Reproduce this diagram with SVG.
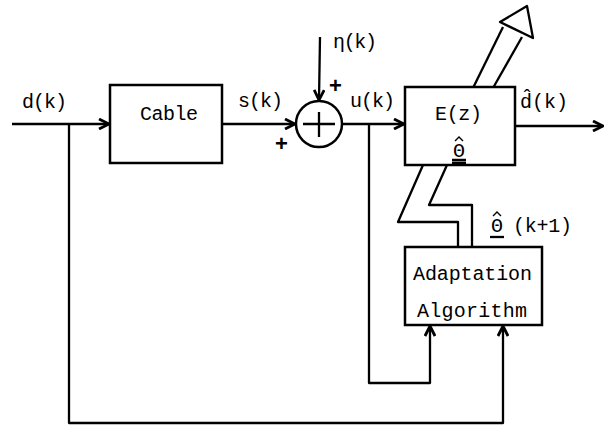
<svg xmlns="http://www.w3.org/2000/svg" width="608" height="428" viewBox="0 0 608 428">
<style>
.box{fill:#fff;stroke:#000;stroke-width:2.5}
.ln{fill:none;stroke:#000;stroke-width:2.3;stroke-linejoin:round}
.hat{fill:none;stroke:#000;stroke-width:1.4}
.t{font-family:"Liberation Mono","DejaVu Sans Mono",monospace;font-size:20px;fill:#000}
.pl{font-family:"Liberation Sans",sans-serif;font-size:22px;font-weight:bold;fill:#000}
</style>
<defs>
<marker id="ah" viewBox="0 0 12 12" refX="11" refY="6" markerWidth="12" markerHeight="12" markerUnits="userSpaceOnUse" orient="auto">
<path d="M1,1 L11,6 L1,11" fill="none" stroke="#000" stroke-width="2.8" stroke-linejoin="miter"/>
</marker>
</defs>
<rect width="608" height="428" fill="#fff"/>
<g id="connectors">
<path class="ln" d="M12,124 H109" marker-end="url(#ah)"/>
<path class="ln" d="M69,124 V423 H503 V326" marker-end="url(#ah)"/>
<path class="ln" d="M222,124 H295" marker-end="url(#ah)"/>
<path class="ln" d="M320,37 L319,100" marker-end="url(#ah)"/>
<path class="ln" d="M342,124 H404" marker-end="url(#ah)"/>
<path class="ln" d="M369,124 V383 H430 V326" marker-end="url(#ah)"/>
<path class="ln" d="M515,126 H603" marker-end="url(#ah)"/>
<g id="parameter-arrow">
<path class="ln" d="M473,88 L503,27"/>
<path class="ln" d="M493,88 L522,37"/>
<path class="ln" d="M500,22 L527,6 L533,38 Z"/>
<path class="ln" d="M423,165 L398,222 H458 V247"/>
<path class="ln" d="M447,165 L429,205 H472 V247"/>
</g>
</g>
<text class="t" x="22" y="108" textLength="45">d(k)</text>
<g id="cable">
<rect class="box" x="110" y="85" width="112" height="78"/>
<text class="t" x="140" y="120" textLength="58">Cable</text>
</g>
<text class="t" x="238" y="107" textLength="45">s(k)</text>
<g id="sum">
<circle class="box" cx="319" cy="124" r="23"/>
<path class="ln" d="M303,124 H335 M319,112 V137"/>
<text class="pl" x="329" y="93">+</text>
<text class="pl" x="275" y="151">+</text>
</g>
<text class="t" x="333" y="48" textLength="44">η(k)</text>
<text class="t" x="350" y="107" textLength="45">u(k)</text>
<g id="estimator">
<rect class="box" x="405" y="87" width="110" height="78"/>
<text class="t" x="435" y="120" textLength="47">E(z)</text>
<text class="t" x="459" y="157" text-anchor="middle">Θ</text>
<path class="hat" d="M455,141 L459,137 L463,141"/>
<path class="ln" d="M452,160 H466 M452,163 H466" stroke-width="1.3"/>
</g>
<text class="t" x="520" y="108" textLength="48">d̂(k)</text>
<g id="adaptation">
<rect class="box" x="405" y="247" width="137" height="78"/>
<text class="t" x="413" y="280" textLength="119">Adaptation</text>
<text class="t" x="417" y="317" textLength="110">Algorithm</text>
</g>
<text class="t" x="497" y="232" text-anchor="middle">Θ</text>
<path class="hat" d="M493,216 L497,212 L501,216"/>
<path class="ln" d="M490,237 H504" stroke-width="1.3"/>
<text class="t" x="513" y="232" textLength="59">(k+1)</text>
</svg>
